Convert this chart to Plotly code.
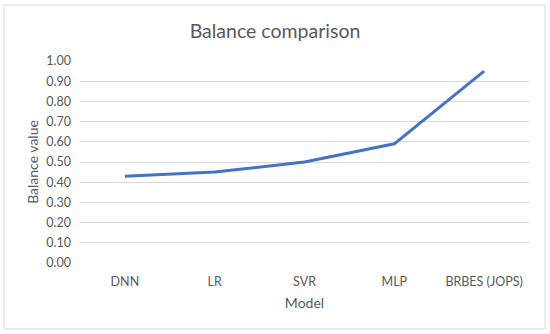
import plotly.graph_objects as go

models = ["DNN", "LR", "SVR", "MLP", "BRBES (JOPS)"]
balance_values = [0.43, 0.45, 0.50, 0.59, 0.95]
y_ticks = [0.0, 0.1, 0.2, 0.3, 0.4, 0.5, 0.6, 0.7, 0.8, 0.9, 1.0]

W, H = 550, 334
L, R, T, B = 80, 21, 61, 71
pw, ph = W - L - R, H - T - B

fig = go.Figure()
fig.add_trace(go.Scatter(
    x=models, y=balance_values, mode="lines",
    line=dict(color="#4472C4", width=3),
    showlegend=False,
))

font_family = "Lato, 'Open Sans', sans-serif"
grey = "#595959"

fig.update_layout(
    width=W, height=H,
    margin=dict(l=L, r=R, t=T, b=B),
    paper_bgcolor="white", plot_bgcolor="white",
    title=dict(text="Balance comparison", x=0.5, xanchor="center",
               y=1 - 31 / H, yanchor="middle",
               font=dict(family=font_family, size=19.5, color=grey)),
    xaxis=dict(type="category", range=[-0.5, 4.5], showgrid=False,
               zeroline=False, showline=False, ticks="", automargin=False,
               ticklabelstandoff=9,
               tickfont=dict(family=font_family, size=12.5, color=grey),
               title=dict(text="Model", standoff=10,
                          font=dict(family=font_family, size=14, color=grey))),
    yaxis=dict(range=[0, 1.0], tickvals=y_ticks,
               ticktext=[f"{v:.2f}" for v in y_ticks],
               showgrid=True, gridcolor="#D9D9D9", gridwidth=1,
               zeroline=False, showline=False, ticks="", automargin=False,
               ticklabelstandoff=8,
               tickfont=dict(family=font_family, size=12.5, color=grey),
               title=dict(text="Balance value", standoff=4,
                          font=dict(family=font_family, size=14, color=grey))),
)

# outer chart border
fig.add_shape(type="rect", xref="paper", yref="paper",
              x0=(4 - L) / pw, x1=(545 - L) / pw,
              y0=(H - B - 329) / ph, y1=(H - B - 5) / ph,
              line=dict(color="#D9D9D9", width=1), layer="above")

fig.write_html("out.html", config={"displayModeBar": False},
               post_script="document.body.style.margin='0';")
